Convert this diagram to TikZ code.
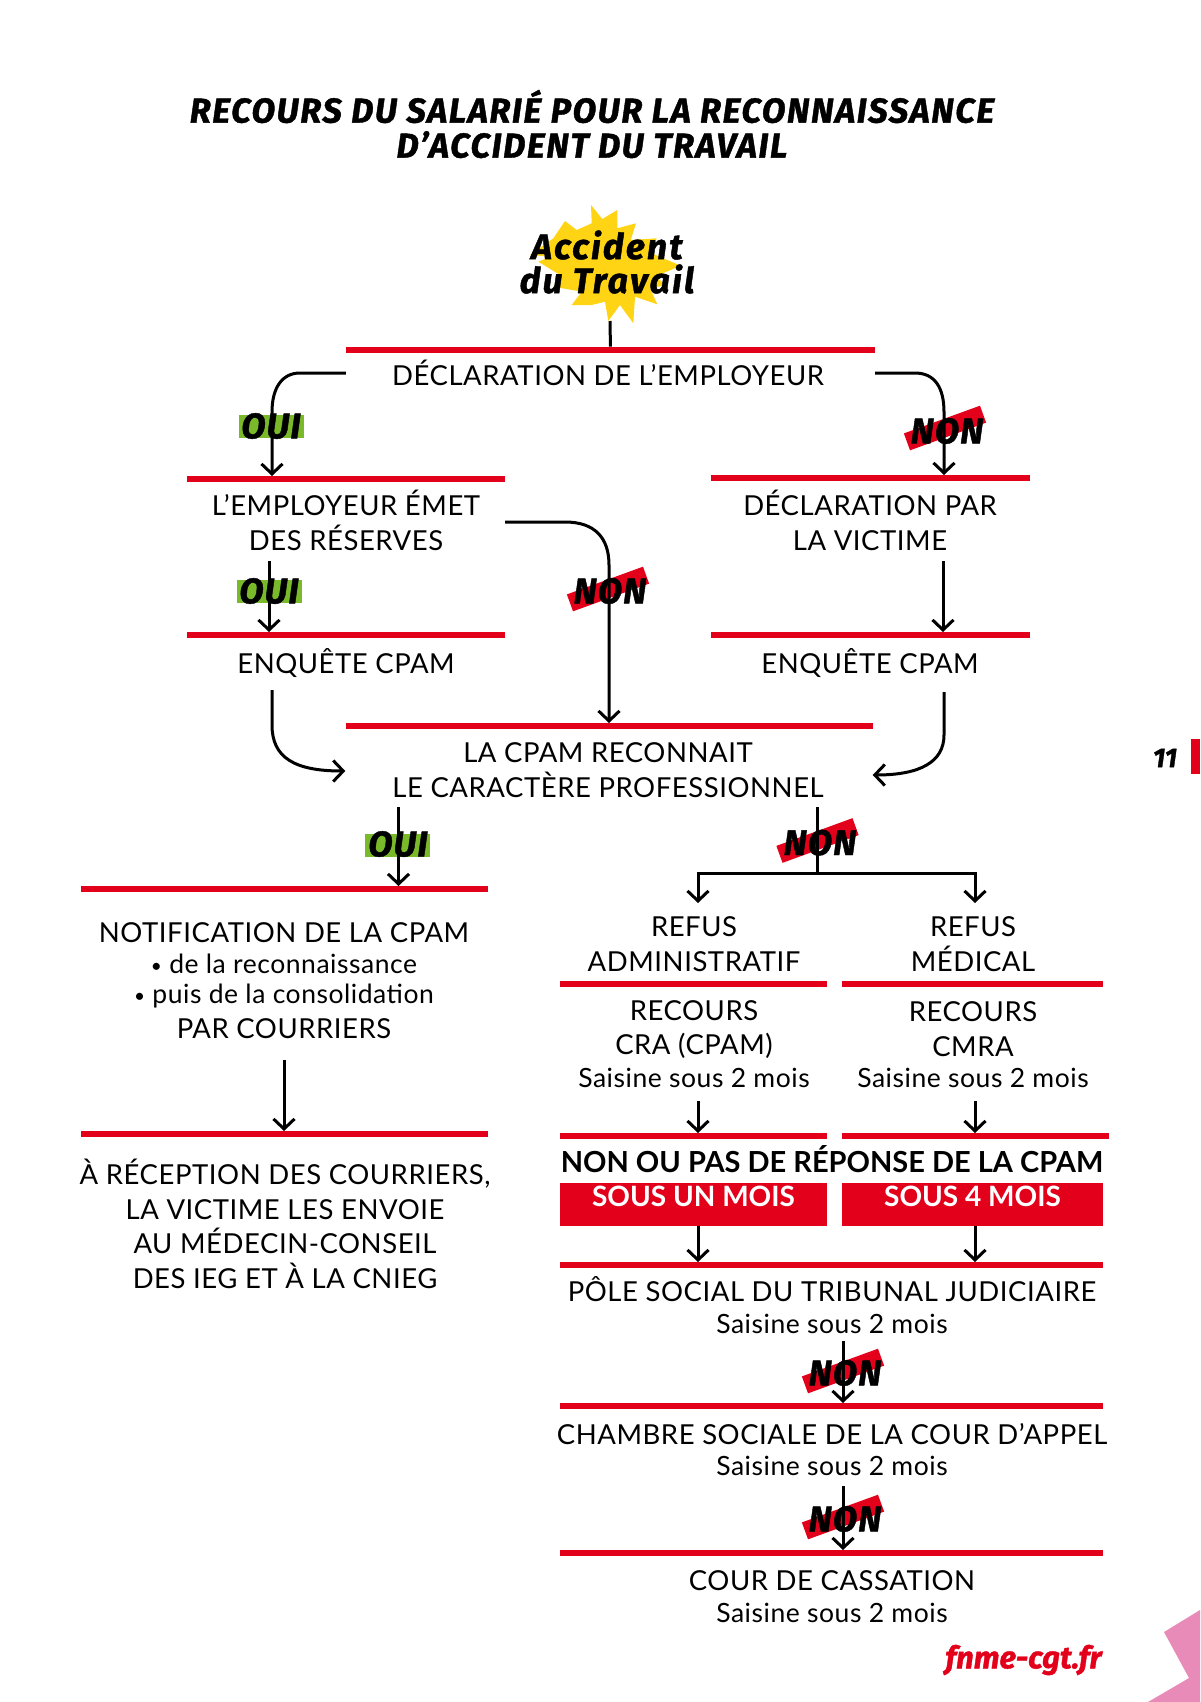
\documentclass[tikz,border=0pt]{standalone}
\usepackage{fontspec}
\usepackage{tikz}
\usetikzlibrary{arrows.meta}
\setmainfont{Lato}
\newfontfamily\headfont{Fira Sans}[BoldItalicFeatures={FakeBold=1.2}]
\definecolor{cgtred}{HTML}{E2001A}
\definecolor{ouigreen}{HTML}{7AB929}
\definecolor{starcolor}{HTML}{FFD414}
\definecolor{cornerpink}{HTML}{E98BB8}
\tikzset{
  >={Straight Barb[length=10pt,width=21pt,line width=3pt]},
  flow/.style={line width=3pt,color=black,rounded corners=0pt},
  redbar/.style={fill=cgtred,inner sep=0pt,minimum height=6.5pt},
  redbox/.style={fill=cgtred,text=white,inner sep=0pt,minimum height=43pt,font=\fontsize{28}{32}\selectfont\bfseries},
  body/.style={inner sep=0pt,align=center,text=black,font=\fontsize{27.5}{34.5}\selectfont\addfontfeatures{LetterSpace=2}},
  saisine/.style={inner sep=0pt,text=black,font=\fontsize{26.5}{30}\selectfont\addfontfeatures{LetterSpace=2}},
  answer/.style={inner sep=0pt,text=black,font=\headfont\fontsize{35.5}{40}\selectfont\bfseries\itshape\addfontfeatures{LetterSpace=3}},
  ouimark/.style={fill=ouigreen,inner sep=0pt,minimum width=65pt,minimum height=23pt},
  nonmark/.style={fill=cgtred,inner sep=0pt,minimum width=81pt,minimum height=18pt,rotate=20},
}
\begin{document}
\begin{tikzpicture}[x=1pt,y=-1pt]
      \useasboundingbox (0,0) rectangle (1200,1702);

      \fill[starcolor] (591,205) -- (602.3,219) -- (617.3,210) -- (617.3,228.3) -- (636,223.3) -- (630.7,240)
        -- (656.7,238.3) -- (651.7,253.3) -- (680.7,265.7) -- (655,276.7) -- (666.7,285) -- (650,288.3)
        -- (657.3,304.3) -- (635,296.7) -- (633.3,323.3) -- (620,305) -- (608.3,321) -- (605,301.7)
        -- (591.7,305) -- (571.7,305) -- (581.7,291.7) -- (553.3,286.7) -- (560,275) -- (538.3,261.7)
        -- (550,256.7) -- (530,255) -- (553.3,238.3) -- (565,221) -- (576.7,230) -- (591.7,223.3) -- cycle;
      \fill[cornerpink] (1164,1632) -- (1200,1610) -- (1200,1702) -- (1148,1702) -- (1189,1678) -- cycle;

      \node[inner sep=0pt,align=center,font=\headfont\fontsize{34.5}{35}\selectfont\bfseries\itshape\addfontfeatures{LetterSpace=4.5}] (title) at (592,124)
        {RECOURS DU SALARIÉ POUR LA RECONNAISSANCE\\D’ACCIDENT DU TRAVAIL};
      \node[inner sep=0pt,align=center,font=\headfont\fontsize{35.5}{34}\selectfont\bfseries\itshape\addfontfeatures{LetterSpace=6}] (accident) at (607,262)
        {Accident\\du Travail};

      \node[redbar,minimum width=529pt] (declbar) at (610.5,350) {};
      \node[redbar,minimum width=318pt] (reservebar) at (346,479) {};
      \node[redbar,minimum width=319pt] (victimbar) at (870.5,478) {};
      \node[redbar,minimum width=318pt] (enqbarl) at (346,635) {};
      \node[redbar,minimum width=319pt] (enqbarr) at (870.5,635) {};
      \node[redbar,minimum width=527pt] (cpambar) at (609,726) {};
      \node[redbar,minimum width=407pt] (notifbar) at (284.5,889) {};
      \node[redbar,minimum width=407pt] (courrierbar) at (284.5,1134) {};
      \node[redbar,minimum width=267pt] (refusbarl) at (693.5,984) {};
      \node[redbar,minimum width=261pt] (refusbarr) at (972.5,984) {};
      \node[redbar,minimum width=267pt] (recoursbarl) at (693.5,1136) {};
      \node[redbar,minimum width=267.5pt] (recoursbarr) at (975.5,1136) {};
      \node[redbar,minimum width=543pt] (polebar) at (831.5,1265) {};
      \node[redbar,minimum width=543pt] (chambrebar) at (831.5,1406) {};
      \node[redbar,minimum width=543pt] (cassbar) at (831.5,1553) {};
      \node[fill=cgtred,inner sep=0pt,minimum width=9pt,minimum height=35pt] (pagemark) at (1195.5,756.5) {};

      \node[ouimark] (ouibg1) at (271,426.5) {};
      \node[ouimark] (ouibg2) at (269,591) {};
      \node[ouimark] (ouibg3) at (397.5,845) {};
      \node[nonmark] (nonbg1) at (945,428) {};
      \node[nonmark] (nonbg2) at (608,589) {};
      \node[nonmark] (nonbg3) at (817.5,840.5) {};
      \node[nonmark] (nonbg4) at (843,1371) {};
      \node[nonmark] (nonbg5) at (843,1517) {};

      \node[body] (decl) at (608,372.5) {DÉCLARATION DE L’EMPLOYEUR};
      \node[body] (reserve) at (346,520.5) {L’EMPLOYEUR ÉMET\\DES RÉSERVES};
      \node[body] (victim) at (870,520.5) {DÉCLARATION PAR\\LA VICTIME};
      \node[body] (enql) at (346,663) {ENQUÊTE CPAM};
      \node[body] (enqr) at (870,663) {ENQUÊTE CPAM};
      \node[body] (cpam) at (608,770) {LA CPAM RECONNAIT\\LE CARACTÈRE PROFESSIONNEL};
      \node[body] (notif) at (284,933) {NOTIFICATION DE LA CPAM};
      \node[saisine] (notifa) at (284,964) {\raisebox{1pt}{\fontsize{19}{30}\selectfont •} de la reconnaissance};
      \node[saisine] (notifb) at (284,996) {\raisebox{1pt}{\fontsize{19}{30}\selectfont •} puis de la consolidation};
      \node[body] (courrier) at (284,1029) {PAR COURRIERS};
      \node[body] (reception) at (285,1224) {À RÉCEPTION DES COURRIERS,\\LA VICTIME LES ENVOIE\\AU MÉDECIN-CONSEIL\\DES IEG ET À LA CNIEG};
      \node[body] (refusl) at (694,944) {REFUS\\ADMINISTRATIF};
      \node[body] (refusr) at (973,944) {REFUS\\MÉDICAL};
      \node[body] (recoursl) at (694,1029.5) {RECOURS\\CRA (CPAM)};
      \node[body] (recoursr) at (973,1029) {RECOURS\\CMRA};
      \node[saisine] (saisinel) at (694,1078) {Saisine sous 2 mois};
      \node[saisine] (saisiner) at (973,1078) {Saisine sous 2 mois};
      \node[body,font=\fontsize{29}{32}\selectfont\bfseries] (nonrep) at (832,1159) {NON OU PAS DE RÉPONSE DE LA CPAM};
      \node[redbox,minimum width=267pt] (moisl) at (693.5,1204.5) {\raisebox{-2pt}[0pt][0pt]{SOUS UN MOIS}};
      \node[redbox,minimum width=261pt] (moisr) at (972.5,1204.5) {\raisebox{-2pt}[0pt][0pt]{SOUS 4 MOIS}};
      \node[body] (pole) at (832,1289) {PÔLE SOCIAL DU TRIBUNAL JUDICIAIRE};
      \node[saisine] (saisinepole) at (832,1324) {Saisine sous 2 mois};
      \node[body] (chambre) at (832,1434) {CHAMBRE SOCIALE DE LA COUR D’APPEL};
      \node[saisine] (saisinech) at (832,1466) {Saisine sous 2 mois};
      \node[body] (cass) at (832,1581) {COUR DE CASSATION};
      \node[saisine] (saisinecass) at (832,1613) {Saisine sous 2 mois};

      \coordinate (startip) at (610,321);
      \coordinate (reservein) at (272,476);
      \coordinate (victimin) at (944,475);
      \coordinate (reserveout) at (269,561);
      \coordinate (enqinl) at (269,632);
      \coordinate (victimout) at (943,561);
      \coordinate (enqinr) at (943,632);
      \coordinate (nonin) at (609,723);
      \coordinate (enqoutl) at (272,690);
      \coordinate (enqoutr) at (944,692);
      \coordinate (cpamoutl) at (398.5,807);
      \coordinate (notifin) at (398.5,886);
      \coordinate (cpamoutr) at (817.5,807);
      \coordinate (branch) at (817.5,873);
      \coordinate (branchl) at (698,873);
      \coordinate (branchr) at (975,873);
      \coordinate (refusinl) at (698,903);
      \coordinate (refusinr) at (975,903);
      \coordinate (saisineoutl) at (698,1101);
      \coordinate (saisineoutr) at (975,1101);
      \coordinate (recoursinl) at (698,1133);
      \coordinate (recoursinr) at (975,1133);
      \coordinate (poleinl) at (698,1262);
      \coordinate (poleinr) at (975,1262);
      \coordinate (poleout) at (843,1341);
      \coordinate (chambrein) at (843,1403);
      \coordinate (chambreout) at (843,1486);
      \coordinate (cassin) at (843,1550);
      \coordinate (courrierout) at (284,1060);
      \coordinate (courrierin) at (284,1131);

      \draw[flow] (startip) -- (declbar);
      \draw[flow,->] (declbar.west |- 0,373) -- (300,373) .. controls (282,373) and (272,388) .. (272,412) -- (reservein);
      \draw[flow,->] (declbar.east |- 0,373) -- (915,373) .. controls (935,373) and (944,388) .. (944,412) -- (victimin);
      \draw[flow,->] (reserveout) -- (enqinl);
      \draw[flow,->] (victimout) -- (enqinr);
      \draw[flow,->] (reservebar.east |- 0,522) -- (565,522) .. controls (595,522) and (609,538) .. (609,565) -- (nonin);
      \draw[flow,->] (enqoutl) -- (272,725) .. controls (272,758) and (295,771) .. (cpambar.west |- 0,771);
      \draw[flow,->] (enqoutr) -- (944,735) .. controls (944,762) and (920,775) .. (cpambar.east |- 0,775);
      \draw[flow,->] (cpamoutl) -- (notifin);
      \draw[flow] (cpamoutr) -- (branch);
      \draw[flow,->] (branch) -- (branchl) -- (refusinl);
      \draw[flow,->] (branch) -- (branchr) -- (refusinr);
      \draw[flow,->] (saisineoutl) -- (recoursinl);
      \draw[flow,->] (saisineoutr) -- (recoursinr);
      \draw[flow,->] (moisl.south -| poleinl) -- (poleinl);
      \draw[flow,->] (moisr.south -| poleinr) -- (poleinr);
      \draw[flow,->] (poleout) -- (chambrein);
      \draw[flow,->] (chambreout) -- (cassin);
      \draw[flow,->] (courrierout) -- (courrierin);

      \node[answer] (oui1) at (271,426) {OUI};
      \node[answer] (oui2) at (269,591) {OUI};
      \node[answer] (oui3) at (398,844) {OUI};
      \node[answer] (non1) at (947,431) {NON};
      \node[answer] (non2) at (610,591) {NON};
      \node[answer] (non3) at (820,842.7) {NON};
      \node[answer] (non4) at (845,1373) {NON};
      \node[answer] (non5) at (845,1519) {NON};

      \node[inner sep=0pt,text=cgtred,font=\headfont\fontsize{31}{33}\selectfont\bfseries\itshape] (site) at (1023.5,1660) {fnme-cgt.fr};
      \node[inner sep=0pt,font=\headfont\fontsize{27}{30}\selectfont\bfseries\itshape] (pagenum) at (1165,758) {11};
    \end{tikzpicture}
\end{document}
